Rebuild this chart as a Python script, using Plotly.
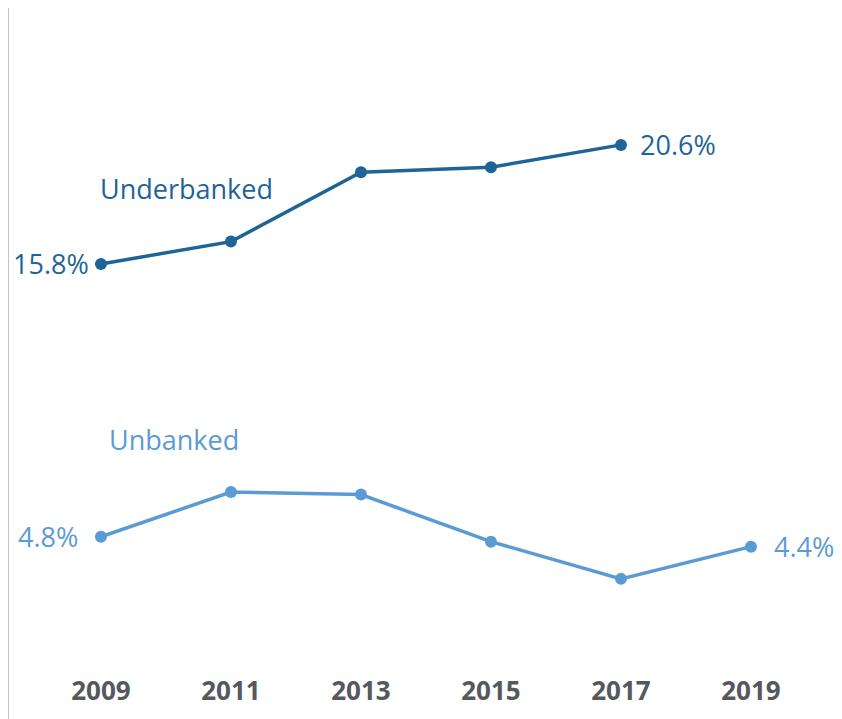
import plotly.graph_objects as go

years = [2009, 2011, 2013, 2015, 2017, 2019]
underbanked = [15.8, 16.7, 19.5, 19.7, 20.6, None]
unbanked = [4.8, 6.6, 6.5, 4.6, 3.1, 4.4]

DARK = '#1f6497'
LIGHT = '#5b9bd5'
LABEL_FONT = 'Open Sans, Noto Sans, sans-serif'

fig = go.Figure()

fig.add_trace(go.Scatter(
    x=years, y=underbanked, mode='lines+markers',
    line=dict(color=DARK, width=3.5),
    marker=dict(size=12, color=DARK),
    connectgaps=False, hoverinfo='skip',
))
fig.add_trace(go.Scatter(
    x=years, y=unbanked, mode='lines+markers',
    line=dict(color=LIGHT, width=3.5),
    marker=dict(size=12, color=LIGHT),
    hoverinfo='skip',
))

# end-point value labels
def end_label(x, y, color, shift):
    fig.add_annotation(
        x=x, y=y, text=f'{y}%', showarrow=False,
        xanchor='right' if shift < 0 else 'left',
        xshift=shift,
        font=dict(family=LABEL_FONT, size=27, color=color),
    )

end_label(years[0], underbanked[0], DARK, -10)
end_label(years[4], underbanked[4], DARK, 17)
end_label(years[0], unbanked[0], LIGHT, -21)
end_label(years[-1], unbanked[-1], LIGHT, 21)

# series names
fig.add_annotation(x=2009, y=18.86, text='Underbanked', showarrow=False,
                   xanchor='left', xshift=-3, font=dict(family=LABEL_FONT, size=27, color=DARK))
fig.add_annotation(x=2009, y=8.71, text='Unbanked', showarrow=False,
                   xanchor='left', xshift=6, font=dict(family=LABEL_FONT, size=27, color=LIGHT))

# left rule running the full height
fig.add_shape(type='line', xref='paper', yref='paper', x0=0, x1=0, y0=-0.2, y1=1,
              line=dict(color='#c4c4c4', width=2))

fig.update_layout(
    width=834, height=711,
    showlegend=False,
    plot_bgcolor='white',
    paper_bgcolor='white',
    margin=dict(l=0, r=0, t=0, b=63),
    xaxis=dict(
        range=[2007.57, 2020.4],
        tickvals=years,
        ticktext=[str(y) for y in years],
        showgrid=False, zeroline=False, showline=False,
        ticks='outside', ticklen=12, tickcolor='rgba(0,0,0,0)',
        tickfont=dict(family=LABEL_FONT, size=26, color='#55595e', weight='bold'),
    ),
    yaxis=dict(
        range=[-0.01, 26.12],
        showgrid=False, zeroline=False, showline=False,
        showticklabels=False,
    ),
)

fig.write_html('out.html')
